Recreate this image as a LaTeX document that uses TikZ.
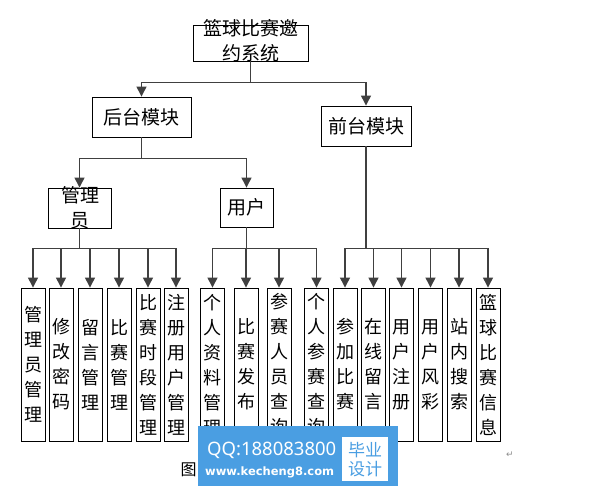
\documentclass[tikz,border=0pt]{standalone}
\usepackage{fontspec}
\newfontfamily\cjk{Noto Sans CJK SC}
\newfontfamily\wmfont{Noto Sans}
\newfontfamily\symfont{DejaVu Sans}
\usetikzlibrary{arrows.meta}
\definecolor{wmblue}{RGB}{74,158,226}
\begin{document}
\begin{tikzpicture}[x=1pt,y=-1pt,
  box/.style={draw=black, line width=0.9pt, inner sep=0pt},
  cn/.style={draw=black!75, line width=1.3pt},
  arr/.style={cn, -{Triangle[width=10pt,length=10pt]}},
  big/.style={font=\cjk\fontsize{19}{25}\selectfont, align=center, inner sep=0pt},
  leaf/.style={box, minimum width=24pt, minimum height=153pt, font=\cjk\fontsize{18}{25}\selectfont, align=center}]
\path[use as bounding box, fill=white] (0,0) rectangle (597,492);

% top levels
\node[box, minimum width=115pt, minimum height=36pt] (sys) at (250.5,43) {};
\node[big] (syst) at (250.5,40.5) {篮球比赛邀\\约系统};
\node[box, big, minimum width=99pt, minimum height=40pt] (back) at (141.5,117) {后台模块};
\node[box, big, minimum width=90pt, minimum height=40pt] (front) at (366,126) {前台模块};
\node[box, minimum width=63pt, minimum height=40pt] (admin) at (79.5,208) {};
\node[big] (admint) at (80,207.5) {管理\\员};
\node[box, big, minimum width=53pt, minimum height=39pt] (user) at (246.5,207.5) {用户};

% leaves: admin
\node[leaf] (a1) at (33,364.5) {管\\理\\员\\管\\理};
\node[leaf] (a2) at (61,364.5) {修\\改\\密\\码};
\node[leaf] (a3) at (90,364.5) {留\\言\\管\\理};
\node[leaf] (a4) at (119,364.5) {比\\赛\\管\\理};
\node[leaf] (a5) at (148,364.5) {比\\赛\\时\\段\\管\\理};
\node[leaf] (a6) at (176,364.5) {注\\册\\用\\户\\管\\理};
% leaves: user
\node[leaf] (u1) at (212.5,364.5) {个\\人\\资\\料\\管\\理};
\node[leaf] (u2) at (246,364.5) {比\\赛\\发\\布};
\node[leaf] (u3) at (279,364.5) {参\\赛\\人\\员\\查\\询};
\node[leaf] (u4) at (316.5,364.5) {个\\人\\参\\赛\\查\\询};
% leaves: front
\node[leaf] (f1) at (345,364.5) {参\\加\\比\\赛};
\node[leaf] (f2) at (373.5,364.5) {在\\线\\留\\言};
\node[leaf] (f3) at (401.5,364.5) {用\\户\\注\\册};
\node[leaf] (f4) at (430.5,364.5) {用\\户\\风\\彩};
\node[leaf] (f5) at (459,364.5) {站\\内\\搜\\索};
\node[leaf] (f6) at (488,364.5) {篮\\球\\比\\赛\\信\\息};

% connectors
\draw[cn] (sys.south) -- ++(0,21) coordinate (j0);
\draw[arr] (j0) -| (back.north);
\draw[arr] (j0) -| (front.north);
\draw[cn] (back.south) -- ++(0,21) coordinate (j1);
\draw[arr] (j1) -| (admin.north);
\draw[arr] (j1) -| (user.north);
\draw[cn] (admin.south) -- ++(0,20) coordinate (j2);
\draw[cn] (user.south) -- ++(0,21) coordinate (j3);
\draw[cn] (front.south) -- ++(0,102) coordinate (j4);
\foreach \n in {a1,a2,a3,a4,a5,a6} \draw[arr] (j2) -| (\n.north);
\foreach \n in {u1,u2,u3,u4} \draw[arr] (j3) -| (\n.north);
\foreach \n in {f1,f2,f3,f4,f5,f6} \draw[arr] (j4) -| (\n.north);

% caption fragment and paragraph mark
\node[font=\cjk\fontsize{16}{16}\selectfont, inner sep=0pt] (cap) at (188.5,470) {图};
\node[font=\symfont\fontsize{9}{9}\selectfont, text=black!45, inner sep=0pt] (pm) at (510,455) {↵};

% watermark
\node[fill=wmblue, minimum width=200pt, minimum height=60pt, inner sep=0pt] (wm) at (298,456) {};
\node[fill=white, minimum width=46pt, minimum height=44pt, inner sep=0pt] (wmb) at (365,459) {};
\node[font=\cjk\fontsize{17}{19}\selectfont, text=wmblue, align=center, inner sep=0pt] (wmbt) at (365,459.5) {毕业\\设计};
\node[font=\wmfont\fontsize{18.5}{18}\selectfont, text=white, inner sep=0pt, anchor=west] (wmqq) at (207,450) {QQ:188083800};
\node[font=\symfont\bfseries\fontsize{11.5}{12}\selectfont, text=white, inner sep=0pt, anchor=west] (wmurl) at (205,472) {www.kecheng8.com};
\end{tikzpicture}
\end{document}
